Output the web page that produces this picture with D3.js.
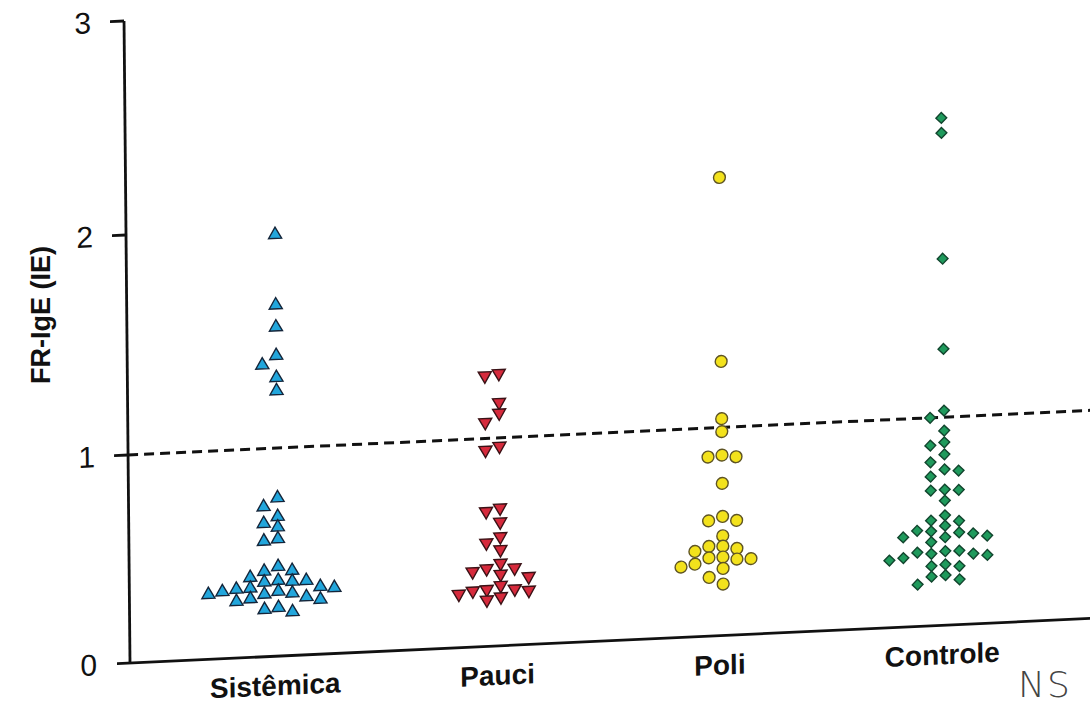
<!DOCTYPE html>
<html>
<head>
<meta charset="utf-8">
<script src="https://cdn.jsdelivr.net/npm/d3@7"></script>
<style>
  html, body { margin: 0; padding: 0; background: #ffffff; }
  svg { display: block; }
</style>
</head>
<body>
<div id="chart"></div>
<script>
// FR-IgE (IE) per group, one value per subject
const categories = ["Sistêmica", "Pauci", "Poli", "Controle"];

const sistemica = [1.97, 1.65, 1.55, 1.42, 1.38, 1.32, 1.26, 0.76, 0.72, 0.67, 0.64, 0.62,
  0.563, 0.555, 0.43, 0.41, 0.408, 0.383, 0.363, 0.358, 0.356, 0.356, 0.332, 0.33, 0.324,
  0.321, 0.316, 0.311, 0.311, 0.30, 0.299, 0.281, 0.278, 0.271, 0.263, 0.233, 0.226, 0.209];

const pauci = [1.293, 1.285, 1.161, 1.113, 1.073, 0.96, 0.944, 0.663, 0.649, 0.596, 0.525,
  0.498, 0.463, 0.397, 0.374, 0.372, 0.363, 0.345, 0.327, 0.291, 0.274, 0.271, 0.27, 0.261,
  0.258, 0.236, 0.224];

const poli = [2.14, 1.30, 1.04, 0.98, 0.867, 0.861, 0.856, 0.731, 0.572, 0.554, 0.55, 0.479,
  0.431, 0.429, 0.415, 0.41, 0.377, 0.376, 0.364, 0.363, 0.349, 0.338, 0.322, 0.282, 0.247];

const controle = [2.37, 2.30, 1.72, 1.31, 1.03, 1.0, 0.935, 0.879, 0.866, 0.821, 0.786, 0.749,
  0.74, 0.717, 0.652, 0.65, 0.647, 0.599, 0.528, 0.506, 0.498, 0.478, 0.46, 0.454, 0.443,
  0.435, 0.431, 0.423, 0.421, 0.402, 0.356, 0.355, 0.355, 0.346, 0.338, 0.332, 0.328, 0.323,
  0.292, 0.287, 0.281, 0.24, 0.236, 0.217, 0.201];

const yTicks = [0, 1, 2, 3];
const cutoff = 1;

const width = 1090, height = 704;

const svg = d3.select("#chart").append("svg")
  .attr("width", width)
  .attr("height", height);

// The printed figure leans slightly: the baseline drops to the left while the
// value axis stays almost upright, so the plot is drawn in a sheared frame.
const ox = 130, oy = 663;
const shY = -0.0464, shX = 0.0093;
const plot = svg.append("g")
  .attr("transform", `matrix(1,${shY},${shX},1,${-shX * oy},${-shY * ox})`);

const y = d3.scaleLinear().domain([0, 1, 2, 3]).range([663, 455, 235, 21]);
const x = d3.scalePoint().domain(categories).range([130, 1095]).padding(0.67);

const font = "'Liberation Sans', Arial, Helvetica, sans-serif";

// axes
plot.append("line")
  .attr("x1", ox).attr("x2", ox)
  .attr("y1", y(3)).attr("y2", y(0))
  .attr("stroke", "#111").attr("stroke-width", 2.8);
plot.append("line")
  .attr("x1", ox - 13).attr("x2", 1110)
  .attr("y1", y(0)).attr("y2", y(0))
  .attr("stroke", "#111").attr("stroke-width", 2.8);
plot.selectAll(".ytick").data(yTicks.filter(d => d > 0)).join("line")
  .attr("class", "ytick")
  .attr("x1", ox - 14).attr("x2", ox)
  .attr("y1", d => y(d)).attr("y2", d => y(d))
  .attr("stroke", "#111").attr("stroke-width", 2.8);
plot.selectAll(".ylab").data(yTicks).join("text")
  .attr("class", "ylab")
  .attr("x", ox - 33)
  .attr("y", d => y(d))
  .attr("dy", "0.36em")
  .attr("text-anchor", "end")
  .attr("font-family", font)
  .attr("font-size", 30)
  .attr("fill", "#111")
  .text(d => d);

// category labels
plot.selectAll(".xlab").data(categories).join("text")
  .attr("class", "xlab")
  .attr("x", d => x(d) - 4)
  .attr("y", y(0) + 39)
  .attr("text-anchor", "middle")
  .attr("font-family", font)
  .attr("font-weight", "bold")
  .attr("font-size", 28)
  .attr("fill", "#111")
  .text(d => d);

// y-axis title
svg.append("text")
  .attr("transform", "translate(50,315) rotate(-90)")
  .attr("text-anchor", "middle")
  .attr("font-family", font)
  .attr("font-weight", "bold")
  .attr("font-size", 27)
  .attr("fill", "#111")
  .text("FR-IgE (IE)");

// cutoff line at 1
plot.append("line")
  .attr("x1", ox).attr("x2", 1110)
  .attr("y1", y(cutoff)).attr("y2", y(cutoff))
  .attr("stroke", "#111").attr("stroke-width", 3)
  .attr("stroke-dasharray", "10,6");

// spread points that would overlap into side-by-side slots
function dodge(values, cx) {
  const slot = 14, gap = 10;
  const placed = [];
  return values.map(v => {
    const py = y(v);
    let k = 0;
    for (let i = 0; i < 40; i++) {
      k = i === 0 ? 0 : (i % 2 ? -Math.ceil(i / 2) : Math.ceil(i / 2));
      const clash = placed.some(p => p.k === k && Math.abs(p.py - py) < gap);
      if (!clash) break;
    }
    placed.push({ k, py });
    return { v, px: cx + k * slot, py };
  });
}

const groups = [
  { name: "Sistêmica", values: sistemica, type: d3.symbolTriangle, size: 74, rot: 0,
    fill: "#22a6dc", stroke: "#14253a" },
  { name: "Pauci", values: pauci, type: d3.symbolTriangle, size: 74, rot: 180,
    fill: "#d62a3c", stroke: "#3a1216" },
  { name: "Poli", values: poli, type: d3.symbolCircle, size: 110, rot: 0,
    fill: "#f3e21c", stroke: "#5e5424" },
  { name: "Controle", values: controle, type: d3.symbolSquare, size: 58, rot: 45,
    fill: "#1f9a5c", stroke: "#12452e" }
];

groups.forEach(g => {
  const pts = dodge(g.values, x(g.name));
  plot.append("g").selectAll("path").data(pts).join("path")
    .attr("transform", d => `translate(${d.px},${d.py}) rotate(${g.rot})`)
    .attr("d", d3.symbol().type(g.type).size(g.size))
    .attr("fill", g.fill)
    .attr("stroke", g.stroke)
    .attr("stroke-width", 1.4);
});

// handwritten note beside the last group
svg.append("text")
  .attr("x", 1018).attr("y", 697)
  .attr("font-family", "'DejaVu Sans', sans-serif")
  .attr("font-weight", 200)
  .attr("font-size", 36)
  .attr("letter-spacing", 2)
  .attr("fill", "#444")
  .text("NS");
</script>
</body>
</html>
